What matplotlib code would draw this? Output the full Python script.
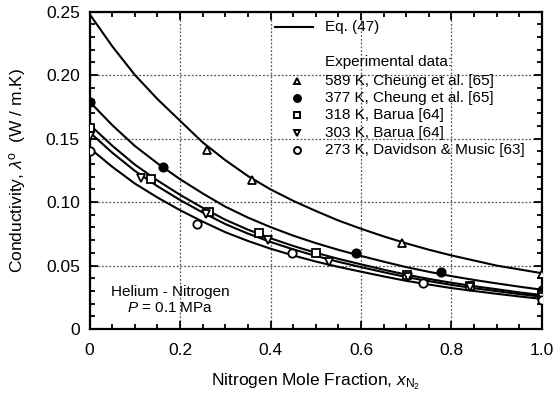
import matplotlib
matplotlib.use("Agg")
import matplotlib.pyplot as plt
from matplotlib.ticker import MultipleLocator, FixedLocator

plt.rcParams['font.family'] = ['Liberation Sans', 'DejaVu Sans']
plt.rcParams['mathtext.fontset'] = 'custom'
plt.rcParams['mathtext.rm'] = 'Liberation Sans'
plt.rcParams['mathtext.it'] = 'Liberation Sans:italic'

# ---- Eq. (47) curves ----
x_curve = [0.0, 0.05, 0.10, 0.15, 0.20, 0.25, 0.30, 0.35, 0.40, 0.45, 0.50,
           0.55, 0.60, 0.65, 0.70, 0.75, 0.80, 0.85, 0.90, 0.95, 1.0]
curve_589 = [0.248, 0.2227, 0.2001, 0.1811, 0.1640, 0.1470, 0.1330, 0.1205, 0.1100,
             0.1010, 0.0930, 0.0855, 0.0790, 0.0730, 0.0675, 0.0625, 0.0580, 0.0540,
             0.0500, 0.0470, 0.0440]
curve_377 = [0.179, 0.1606, 0.1442, 0.1305, 0.1180, 0.1068, 0.0964, 0.0878, 0.0803,
             0.0736, 0.0677, 0.0624, 0.0576, 0.0531, 0.0488, 0.0451, 0.0417, 0.0387,
             0.0360, 0.0334, 0.0310]
curve_318 = [0.161, 0.1444, 0.1295, 0.1170, 0.1057, 0.0955, 0.0861, 0.0783, 0.0715,
             0.0655, 0.0601, 0.0553, 0.0510, 0.0468, 0.0429, 0.0395, 0.0365, 0.0338,
             0.0314, 0.0289, 0.0268]
curve_303 = [0.155, 0.1389, 0.1246, 0.1125, 0.1016, 0.0918, 0.0827, 0.0752, 0.0686,
             0.0628, 0.0576, 0.0530, 0.0488, 0.0448, 0.0410, 0.0378, 0.0348, 0.0322,
             0.0299, 0.0276, 0.0255]
curve_273 = [0.1425, 0.1278, 0.1146, 0.1036, 0.0936, 0.0846, 0.0763, 0.0694, 0.0633,
             0.0580, 0.0532, 0.0490, 0.0452, 0.0415, 0.0380, 0.0351, 0.0323, 0.0300,
             0.0278, 0.0257, 0.0238]

# ---- Experimental data ----
x_589 = [0.26, 0.36, 0.69, 1.0]
y_589 = [0.141, 0.117, 0.068, 0.0435]
x_377 = [0.0, 0.162, 0.588, 0.777, 1.0]
y_377 = [0.179, 0.128, 0.060, 0.045, 0.0305]
x_318 = [0.0, 0.135, 0.263, 0.375, 0.50, 0.701, 0.842, 1.0]
y_318 = [0.158, 0.118, 0.092, 0.076, 0.060, 0.0425, 0.034, 0.027]
x_303 = [0.0, 0.114, 0.257, 0.395, 0.529, 0.705, 0.842, 1.0]
y_303 = [0.152, 0.119, 0.0905, 0.070, 0.053, 0.041, 0.0335, 0.025]
x_273 = [0.0, 0.238, 0.447, 0.736, 1.0]
y_273 = [0.140, 0.083, 0.060, 0.036, 0.023]

legend_labels = ["589 K, Cheung et al. [65]", "377 K, Cheung et al. [65]",
                 "318 K, Barua [64]", "303 K, Barua [64]",
                 "273 K, Davidson & Music [63]"]
x_ticks = [0, 0.2, 0.4, 0.6, 0.8, 1.0]
x_ticklabels = ["0", "0.2", "0.4", "0.6", "0.8", "1.0"]
y_ticks = [0, 0.05, 0.10, 0.15, 0.20, 0.25]
y_ticklabels = ["0", "0.05", "0.10", "0.15", "0.20", "0.25"]

fig = plt.figure(figsize=(5.53, 3.97), dpi=100)
ax = fig.add_axes([0.162, 0.171, 0.818, 0.800])

for c in [curve_589, curve_377, curve_318, curve_303, curve_273]:
    ax.plot(x_curve, c, color='black', lw=1.5, zorder=3)

mk = dict(color='black', linestyle='none', markersize=6, markeredgewidth=1.3, zorder=4)
series = [(x_589, y_589, '^', 'white'),
          (x_377, y_377, 'o', 'black'),
          (x_318, y_318, 's', 'white'),
          (x_303, y_303, 'v', 'white'),
          (x_273, y_273, 'o', 'white')]
for xs, ys, m, fc in series:
    ax.plot(xs, ys, marker=m, markerfacecolor=fc, markeredgecolor='black', **mk)

ax.set_xlim(0, 1.0)
ax.set_ylim(0, 0.25)
ax.xaxis.set_major_locator(FixedLocator(x_ticks))
ax.set_xticklabels(x_ticklabels)
ax.yaxis.set_major_locator(FixedLocator(y_ticks))
ax.set_yticklabels(y_ticklabels)
ax.xaxis.set_minor_locator(MultipleLocator(0.05))
ax.yaxis.set_minor_locator(MultipleLocator(0.01))
ax.tick_params(which='both', direction='in', top=True, right=True, labelsize=12.5,
               width=1.3, color='black')
ax.tick_params(which='major', length=6)
ax.tick_params(which='minor', length=3.5)
ax.tick_params(axis='x', which='major', pad=10)
ax.tick_params(axis='y', which='major', pad=7)
for s in ax.spines.values():
    s.set_linewidth(1.6)
ax.grid(True, which='major', linestyle=(0, (1.5, 1.5)), color='#555555', lw=0.9)
ax.set_axisbelow(True)

ax.set_xlabel(r"Nitrogen Mole Fraction, $\mathit{x}_{\mathrm{N_2}}$", fontsize=12.5, labelpad=10)
ax.set_ylabel(r"Conductivity, $\lambda^{\mathrm{o}}$  (W / m.K)", fontsize=12.5, labelpad=13)

# ---- legend drawn manually ----
tr = ax.transAxes
ax.plot([0.41, 0.494], [0.951, 0.951], color='black', lw=1.5, transform=tr, clip_on=False)
ax.text(0.52, 0.951, "Eq. (47)", transform=tr, fontsize=11, va='center', ha='left')
ax.text(0.52, 0.841, "Experimental data:", transform=tr, fontsize=11, va='center', ha='left')
ys_leg = [0.781, 0.727, 0.673, 0.619, 0.564]
for (xs, ys, m, fc), yl, lab in zip(series, ys_leg, legend_labels):
    ax.plot([0.459], [yl], marker=m, markerfacecolor=fc, markeredgecolor='black',
            transform=tr, clip_on=False, color='black', linestyle='none',
            markersize=5, markeredgewidth=1.4)
    ax.text(0.52, yl, lab, transform=tr, fontsize=11, va='center', ha='left')

ax.text(0.178, 0.1175, "Helium - Nitrogen", transform=tr, fontsize=11, ha='center', va='center')
ax.text(0.178, 0.067, r"$\mathit{P}$ = 0.1 MPa", transform=tr, fontsize=11, ha='center', va='center')

fig.savefig("out.png", dpi=100)
